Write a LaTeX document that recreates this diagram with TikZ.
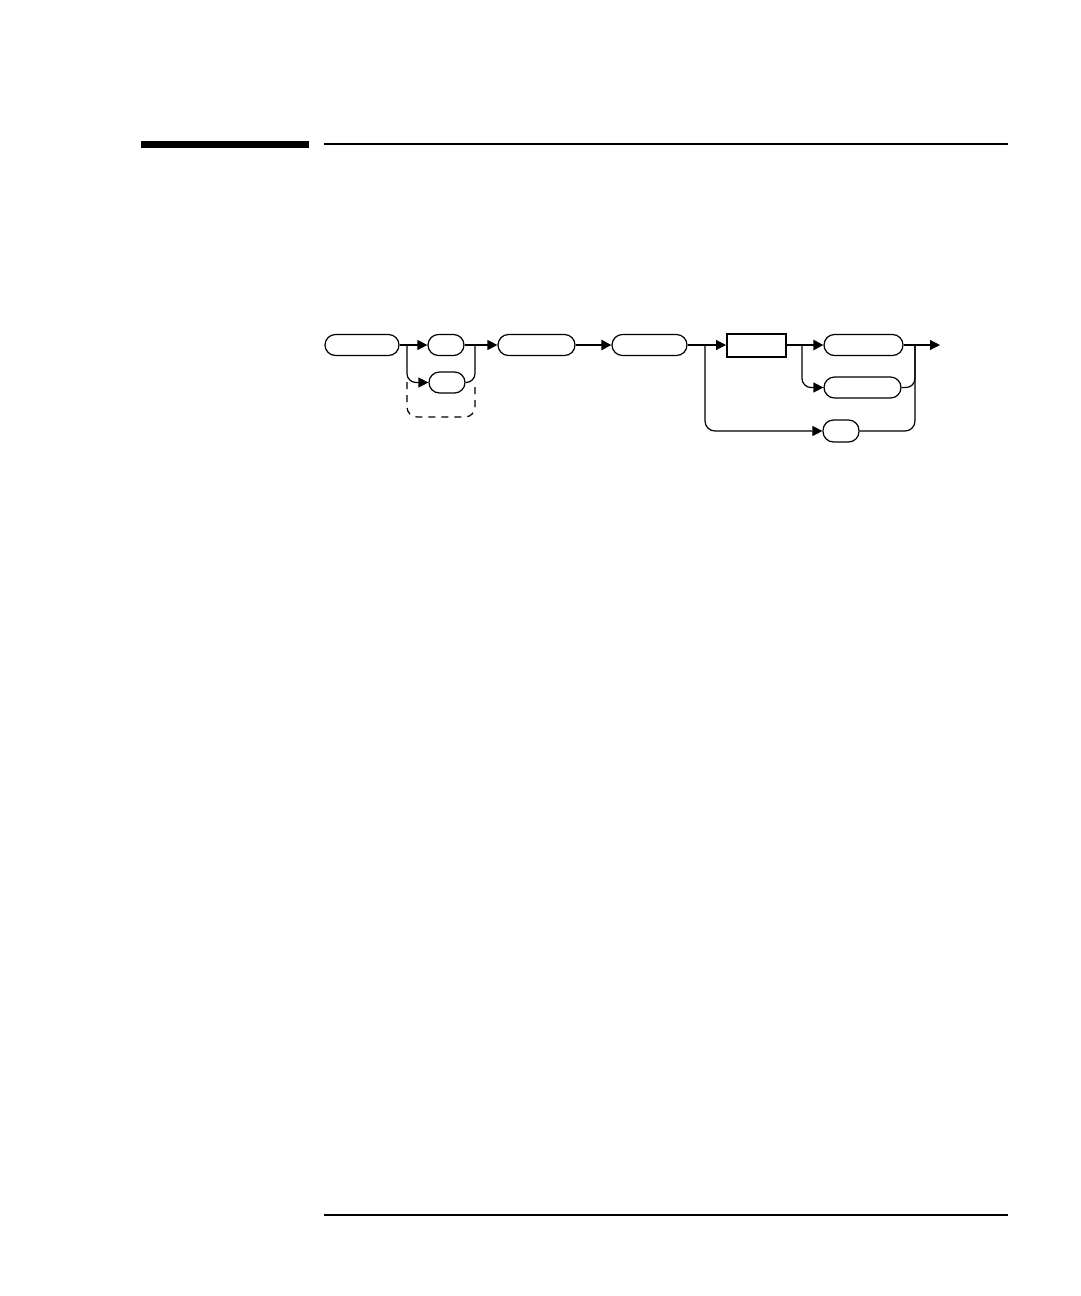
\documentclass[tikz,border=0pt]{standalone}
\usetikzlibrary{arrows.meta}
\begin{document}
\begin{tikzpicture}[x=1pt,y=-1pt,
  conn/.style={line width=1.2pt,-{Triangle[length=10pt,width=10pt]}},
  plain/.style={line width=1.2pt},
  thickconn/.style={line width=2.4pt,-{Triangle[length=10pt,width=10pt]}},
  pill/.style={draw,line width=1.2pt,fill=white,rounded corners=10.5pt,inner sep=0pt,minimum height=21pt},
  boxnode/.style={draw,line width=2pt,fill=white,inner sep=0pt,minimum height=23pt}]
\useasboundingbox (0,0) rectangle (1080,1296);
% header and footer rules
\fill (141,141) rectangle (309,148);
\draw[line width=1.2pt] (324,144) -- (1008,144);
\draw[line width=1.2pt] (324,1215) -- (1008,1215);
% nodes
\node[pill,minimum width=74pt] (A) at (362,345) {};
\node[pill,minimum width=36pt] (B) at (446,345) {};
\node[pill,minimum width=36pt] (C) at (447,382.5) {};
\node[pill,minimum width=77pt] (D) at (536.5,345) {};
\node[pill,minimum width=75pt] (E) at (649.5,345) {};
\node[boxnode,minimum width=59pt] (F) at (756.5,345) {};
\node[pill,minimum width=79pt] (G) at (863.5,345) {};
\node[pill,minimum width=77pt] (H) at (862.5,387.5) {};
\node[pill,minimum width=36pt,minimum height=22pt] (I) at (841,431) {};
% junctions
\coordinate (j1) at (407,345);
\coordinate (j2) at (475,345);
\coordinate (j3) at (705,345);
\coordinate (j4) at (802,345);
\coordinate (j5) at (915,345);
\coordinate (out) at (940,345);
\coordinate (d1) at (407,382);
\coordinate (d2) at (407,417);
\coordinate (d3) at (475,417);
\coordinate (d4) at (475,382);
% connectors
\draw[conn] (A.east) -- (B.west);
\draw[conn,rounded corners=9pt] (j1) |- (C.west);
\draw[conn] (B.east) -- (D.west);
\draw[plain,rounded corners=9pt] (C.east) -| (j2);
\draw[line width=1.2pt,dash pattern=on 7pt off 6pt,rounded corners=10pt] (d1) -- (d2) -- (d3) -- (d4);
\draw[thickconn] (D.east) -- (E.west);
\draw[conn] (E.east) -- (F.west);
\draw[conn,rounded corners=10pt] (j3) |- (I.west);
\draw[thickconn] (F.east) -- (G.west);
\draw[conn,rounded corners=9pt] (j4) |- (H.west);
\draw[conn] (G.east) -- (out);
\draw[plain,rounded corners=9pt] (H.east) -| (j5);
\draw[plain,rounded corners=10pt] (I.east) -| (j5);
\end{tikzpicture}
\end{document}
